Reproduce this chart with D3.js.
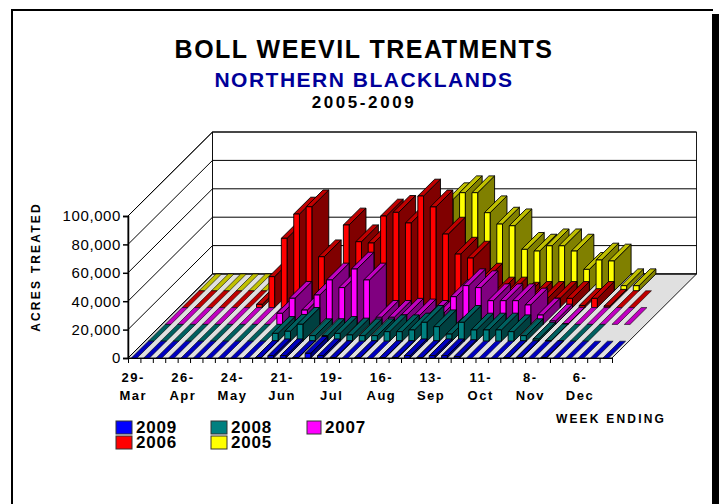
<!DOCTYPE html>
<html>
<head>
<meta charset="utf-8">
<script src="https://cdn.jsdelivr.net/npm/d3@7"></script>
<style>
body { margin: 0; background: #fff; }
text { font-family: "Liberation Sans", Arial, sans-serif; font-weight: bold; fill: #000; }
</style>
</head>
<body>
<div id="chart"></div>
<script>
// one label every 4 weeks, 39 weeks in all
var tickLabels = ["29-Mar", "26-Apr", "24-May", "21-Jun", "19-Jul", "16-Aug", "13-Sep", "11-Oct", "8-Nov", "6-Dec"];
var years = ["2009", "2008", "2007", "2006", "2005"];
var yTicks = [0, 20000, 40000, 60000, 80000, 100000];

var s2009 = [0,0,0,0,0,0,0,0,0,0,300,1600,1600,300,3300,1600,300,0,300,0,300,300,1600,300,1600,1600,1000,0,0,0,300,300,0,300,0,0,0,0,0];
var s2008 = [0,0,0,0,0,0,0,0,0,0,5500,7000,11900,3900,4000,5500,4400,3900,3900,6700,6700,7900,13300,10200,5000,13300,7900,7900,7900,6700,3900,1500,300,0,0,0,null,null,null];
var s2007 = [0,0,0,0,0,0,0,0,0,7800,18400,10100,20700,31300,25900,39000,31300,5000,5000,6500,6000,5000,8000,19500,27300,25900,16700,16700,16700,13700,6600,2400,300,0,0,0,0,0,null];
var s2006 = [0,0,0,0,0,0,2300,21800,48800,65900,71000,35800,10000,58200,46400,45500,64500,67100,59600,78600,70900,51800,37700,34900,19400,9600,9600,6000,6500,6500,6500,6500,1500,6500,1000,0,0,null,null];
var s2005 = [0,0,0,0,0,0,0,0,0,0,0,0,0,0,0,0,0,0,0,0,64200,69100,69100,55000,47000,45800,29200,28000,31700,31700,28000,15100,21700,21000,3600,3600,null,null,null];
var seriesValues = [s2009, s2008, s2007, s2006, s2005];

var frontColors = ["#0000ff", "#008080", "#ff00ff", "#ff0000", "#ffff00"];
var topColors = ["#0000c0", "#006060", "#c000c0", "#c00000", "#c0c000"];
var sideColors = ["#000080", "#004040", "#800080", "#800000", "#808000"];

var width = 724, height = 504;
var left = 128, right = 612, base = 358;
var depthX = 84.5, depthY = 84;

var svg = d3.select("#chart").append("svg")
    .attr("width", width)
    .attr("height", height);

// page frame with its heavy right edge
svg.append("rect").attr("x", 11).attr("y", 9).attr("width", 2).attr("height", 495).attr("fill", "#000");
svg.append("rect").attr("x", 11).attr("y", 9).attr("width", 702).attr("height", 2).attr("fill", "#000");
svg.append("rect").attr("x", 712).attr("y", 14).attr("width", 7).attr("height", 490).attr("fill", "#000");

// set the ranges
var x = d3.scaleBand()
    .domain(d3.range(39))
    .range([left, right])
    .paddingInner(0.54)
    .paddingOuter(0.27);
var weekAxis = d3.scaleLinear().domain([0, 39]).range([left, right]);
var y = d3.scaleLinear().domain([0, 100000]).range([base, 216]);
var zx = d3.scaleLinear().domain([0, 5]).range([0, depthX]);
var zy = d3.scaleLinear().domain([0, 5]).range([0, depthY]);

function poly(points, fill, sw) {
    svg.append("polygon")
        .attr("points", points.map(function(p) { return p.join(","); }).join(" "))
        .attr("fill", fill)
        .attr("stroke", "#000")
        .attr("stroke-width", sw || 0.9)
        .attr("stroke-linejoin", "round");
}

// walls and floor
var backBase = base - depthY, backTop = y(100000) - depthY, backLeft = left + depthX, backRight = right + depthX;
poly([[left, base], [left, y(100000)], [backLeft, backTop], [backLeft, backBase]], "#fff");
poly([[backLeft, backBase], [backLeft, backTop], [backRight, backTop], [backRight, backBase]], "#fff");
poly([[left, base], [right, base], [backRight, backBase], [backLeft, backBase]], "#e0e0e0");

yTicks.forEach(function(t) {
    svg.append("polyline")
        .attr("points", [left, y(t), backLeft, y(t) - depthY, backRight, y(t) - depthY].join(","))
        .attr("fill", "none")
        .attr("stroke", "#000")
        .attr("stroke-width", 1);
});

// back series first, each row left to right
d3.range(4, -1, -1).forEach(function(s) {
    seriesValues[s].forEach(function(v, i) {
        if (v === null) return;
        var x0 = x(i) + zx(s), x1 = x0 + x.bandwidth();
        var yb = base - zy(s), yt = y(v) - zy(s);
        var dx = zx(1), dy = zy(1);
        if (v === 0) {
            // nothing treated that week: only the flat stripe on the floor
            poly([[x0, yt], [x1, yt], [x1 + dx, yt - dy], [x0 + dx, yt - dy]], topColors[s], 0.6);
            return;
        }
        poly([[x1, yb], [x1 + dx, yb - dy], [x1 + dx, yt - dy], [x1, yt]], sideColors[s]);
        poly([[x0, yt], [x1, yt], [x1 + dx, yt - dy], [x0 + dx, yt - dy]], topColors[s]);
        poly([[x0, yb], [x1, yb], [x1, yt], [x0, yt]], frontColors[s]);
    });
});

// add the axes
var gy = svg.append("g")
    .attr("transform", "translate(" + left + ",0)")
    .call(d3.axisLeft(y).tickValues(yTicks).tickFormat(d3.format(",")).tickSize(5));
gy.selectAll("text").attr("font-size", 15).style("font-weight", "normal").attr("letter-spacing", 0.6).attr("x", -7);
gy.selectAll("path, line").attr("stroke", "#000").attr("stroke-width", 1.5);

var gx = svg.append("g")
    .attr("transform", "translate(0," + base + ")")
    .call(d3.axisBottom(weekAxis).tickValues(d3.range(40)).tickFormat("").tickSize(5).tickSizeOuter(0));
gx.selectAll("path, line").attr("stroke", "#000").attr("stroke-width", 1);

tickLabels.forEach(function(d, k) {
    var parts = d.split("-");
    var cx = weekAxis(k * 4 + 0.5) - 1;
    svg.append("text").attr("x", cx).attr("y", 382).attr("text-anchor", "middle")
        .attr("font-size", 13).attr("letter-spacing", 1.5).text(parts[0] + "-");
    svg.append("text").attr("x", cx).attr("y", 400).attr("text-anchor", "middle")
        .attr("font-size", 13).attr("letter-spacing", 1.5).text(parts[1]);
});

// titles
function title(txt, cy, size, spacing, color) {
    svg.append("text").attr("x", 364).attr("y", cy).attr("text-anchor", "middle")
        .attr("font-size", size).attr("letter-spacing", spacing).style("fill", color).text(txt);
}
title("BOLL WEEVIL TREATMENTS", 58, 25, 1.5, "#000");
title("NORTHERN BLACKLANDS", 87, 21, 1.5, "#000099");
title("2005-2009", 108, 17, 2.6, "#000");

svg.append("text").attr("transform", "translate(40,267) rotate(-90)").attr("text-anchor", "middle")
    .attr("font-size", 12).attr("letter-spacing", 2.2).text("ACRES TREATED");
svg.append("text").attr("x", 611).attr("y", 423).attr("text-anchor", "middle")
    .attr("font-size", 12).attr("letter-spacing", 2.2).text("WEEK ENDING");

// legend
var legendX = [116, 211, 307, 116, 211];
var legendY = [421, 421, 421, 436, 436];
years.forEach(function(d, i) {
    svg.append("rect").attr("x", legendX[i]).attr("y", legendY[i]).attr("width", i == 2 ? 14 : 16).attr("height", 13)
        .attr("fill", frontColors[i]).attr("stroke", "#333").attr("stroke-width", 1);
    svg.append("text").attr("x", legendX[i] + (i == 2 ? 18 : 20)).attr("y", legendY[i] + 12)
        .attr("font-size", 17).attr("letter-spacing", 0.8).text(d);
});
</script>
</body>
</html>
